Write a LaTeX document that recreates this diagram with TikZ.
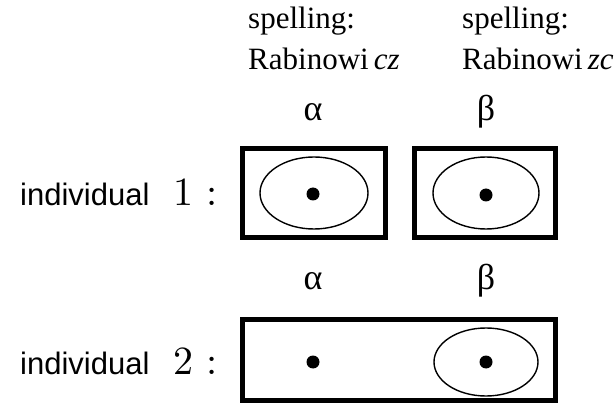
\documentclass[tikz,border=0pt]{standalone}
\usepackage{fontspec}
\setmainfont{Liberation Serif}
\newfontfamily\sansf{Liberation Sans}
\newfontfamily\lmf{lmroman10-regular.otf}
\usetikzlibrary{shapes.geometric}
\begin{document}
\begin{tikzpicture}[x=1pt,y=-1pt,
  frame/.style={draw, line width=5.5pt, inner sep=0pt, outer sep=0pt},
  oval/.style={draw, ellipse, line width=1.4pt, inner sep=0pt},
  dot/.style={circle, fill, inner sep=0pt, minimum size=13pt},
  txt/.style={font=\fontsize{31}{41}\selectfont, inner sep=0pt, anchor=base west, align=left},
  greek/.style={font=\fontsize{36}{40}\selectfont, inner sep=0pt, anchor=base},
  lab/.style={font=\fontsize{31}{38}\selectfont, inner sep=0pt, anchor=base west}]
\useasboundingbox (0,0) rectangle (614,417);

% headings
\node[txt] (s1) at (248,29) {spelling:};
\node[txt] (r1) at (248,70) {Rabinowi\,\textit{cz}};
\node[txt] (s2) at (462,29) {spelling:};
\node[txt] (r2) at (462,70) {Rabinowi\,\textit{zc}};

% row 1
\node[greek] (a1) at (313,121) {α};
\node[greek] (b1) at (486,121) {β};
\node[lab] (l1) at (20,206) {{\sansf individual}\hspace{24pt}{\fontsize{40}{40}\selectfont\lmf 1}\hspace{13pt}{\fontsize{40}{40}\selectfont\lmf :}};
\node[frame, minimum width=143pt, minimum height=89pt] (f1) at (314,193) {};
\node[frame, minimum width=141pt, minimum height=89pt] (f2) at (485,193) {};
\node[oval, minimum width=108pt, minimum height=72pt] (e1) at (314,193) {};
\node[oval, minimum width=106pt, minimum height=72pt] (e2) at (486,193) {};
\node[dot] (d1) at (313,194) {};
\node[dot] (d2) at (486,195) {};

% row 2
\node[greek] (a2) at (313,290) {α};
\node[greek] (b2) at (486,290) {β};
\node[lab] (l2) at (20,374) {{\sansf individual}\hspace{24pt}{\fontsize{40}{40}\selectfont\lmf 2}\hspace{13pt}{\fontsize{40}{40}\selectfont\lmf :}};
\node[frame, minimum width=313pt, minimum height=81pt] (f3) at (399,360) {};
\node[oval, minimum width=104pt, minimum height=68pt] (e3) at (486,362) {};
\node[dot] (d3) at (313,362) {};
\node[dot] (d4) at (486,362) {};
\end{tikzpicture}
\end{document}
